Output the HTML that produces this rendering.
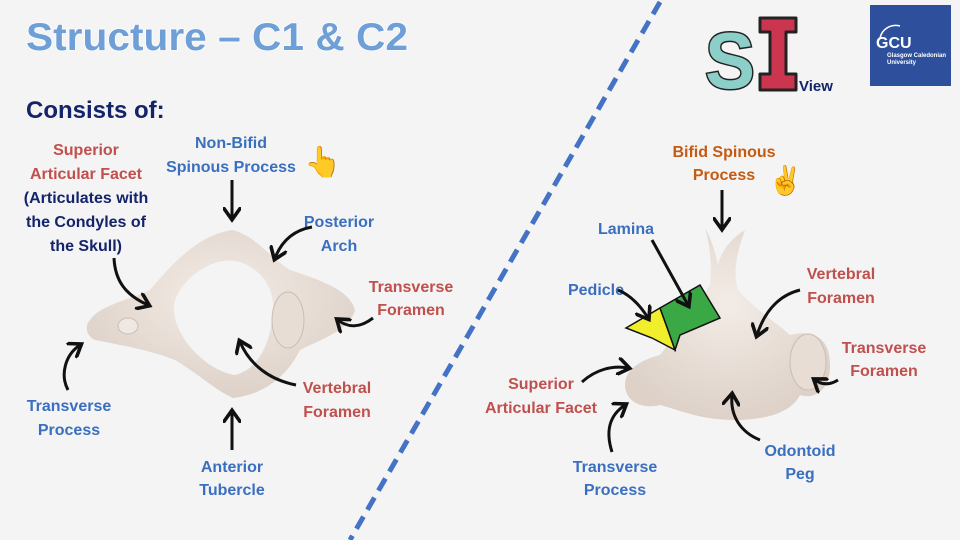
<!DOCTYPE html>
<html><head><meta charset="utf-8"><style>
html,body{margin:0;padding:0;background:#f4f4f4;}
svg{display:block;}
text{font-family:"Liberation Sans",sans-serif;font-weight:bold;}
</style></head><body>
<svg width="960" height="540" viewBox="0 0 960 540" xmlns="http://www.w3.org/2000/svg">
<defs>
<marker id="ah" viewBox="0 0 10 10" refX="6" refY="5" markerWidth="6" markerHeight="6" orient="auto"><path d="M0,0 L7,5 L0,10" fill="none" stroke="#111" stroke-width="2"/></marker>
<radialGradient id="bone" cx="50%" cy="40%" r="60%"><stop offset="0" stop-color="#f3ece6"/><stop offset="1" stop-color="#ddd1c8"/></radialGradient>
</defs>
<rect width="960" height="540" fill="#f4f4f4"/>
<!-- title -->
<text x="26" y="50" font-size="39" fill="#6e9fd6" stroke="#fff" stroke-width="1.5" paint-order="stroke" textLength="382" lengthAdjust="spacingAndGlyphs">Structure – C1 &amp; C2</text>
<text x="26" y="118" font-size="24" fill="#13246a">Consists of:</text>
<!-- dashed line -->
<line x1="660" y1="2" x2="350" y2="540" stroke="#4472c4" stroke-width="5" stroke-dasharray="14,8"/>
<!-- SI logo -->
<text x="705" y="88" font-size="80" fill="#8ccfc8" stroke="#222" stroke-width="3" paint-order="stroke" font-weight="bold" textLength="50" lengthAdjust="spacingAndGlyphs">S</text>
<path d="M760,18 H796 V32 H786 V74 H796 V90 H760 V74 H770 V32 H760 Z" fill="#cc3550" stroke="#222" stroke-width="3" stroke-linejoin="round"/>
<text x="799" y="91" font-size="15" fill="#13246a">View</text>
<rect x="870" y="5" width="81" height="81" fill="#2d4f9c"/>
<text x="876" y="48" font-size="16" fill="#fff" font-family="Liberation Serif" font-weight="normal">GCU</text>
<text x="887" y="57" font-size="6" fill="#fff" font-weight="normal">Glasgow Caledonian</text>
<text x="887" y="64" font-size="6" fill="#fff" font-weight="normal">University</text>
<path d="M880,38 A16,16 0 0 1 900,26" fill="none" stroke="#fff" stroke-width="1.5"/>
<!-- hands -->
<text x="304" y="172" font-size="30">👆</text>
<text x="768" y="190" font-size="28">✌</text>
<!-- C1 bone -->
<path fill-rule="evenodd" fill="url(#bone)" d="M90,320 C100,305 130,300 150,290 C175,260 200,235 232,230 C255,235 270,258 290,270 C320,280 350,290 355,310 C350,330 320,340 300,350 C285,380 260,395 233,398 C215,390 200,375 175,360 C150,350 120,345 95,340 C85,335 85,325 90,320 Z
M175,300 C185,275 215,255 240,262 C262,270 278,290 272,320 C268,350 255,370 235,375 C215,372 195,355 185,340 C175,325 172,310 175,300 Z"/>
<ellipse cx="128" cy="326" rx="10" ry="8" fill="#efe8e2" stroke="#cbbdb2"/>
<ellipse cx="288" cy="320" rx="16" ry="28" fill="#e7ddd5" stroke="#cbbdb2"/>
<!-- C2 bone -->
<path fill="url(#bone)" d="M705,228 C712,240 716,255 718,265 C720,255 728,240 745,230 C738,250 732,270 738,290 C755,310 780,325 790,335 C810,330 830,335 830,365 C830,390 815,400 800,395 C790,415 760,420 735,420 C700,420 680,410 660,405 C640,410 625,400 625,385 C625,370 640,360 660,355 C680,330 700,300 710,285 C712,265 710,245 705,228 Z"/>
<ellipse cx="808" cy="362" rx="18" ry="28" fill="#e7ddd5" stroke="#cbbdb2"/>
<path d="M626,328 L660,308 L668,330 L675,350 L652,338 Z" fill="#f1ef2c" stroke="#111" stroke-width="1.5"/>
<path d="M660,308 L700,285 L720,318 L680,335 L675,350 L668,330 Z" fill="#3aa845" stroke="#111" stroke-width="1.5"/>
<!-- labels -->
<g font-size="16" text-anchor="middle">
<text x="86" y="155" fill="#c0504d">Superior</text>
<text x="86" y="179" fill="#c0504d">Articular Facet</text>
<text x="86" y="203" fill="#13246a">(Articulates with</text>
<text x="86" y="227" fill="#13246a">the Condyles of</text>
<text x="86" y="251" fill="#13246a">the Skull)</text>
<text x="231" y="148" fill="#3a6fc0">Non-Bifid</text>
<text x="231" y="172" fill="#3a6fc0">Spinous Process</text>
<text x="339" y="227" fill="#3a6fc0">Posterior</text>
<text x="339" y="251" fill="#3a6fc0">Arch</text>
<text x="411" y="292" fill="#c0504d">Transverse</text>
<text x="411" y="315" fill="#c0504d">Foramen</text>
<text x="337" y="393" fill="#c0504d">Vertebral</text>
<text x="337" y="417" fill="#c0504d">Foramen</text>
<text x="69" y="411" fill="#3a6fc0">Transverse</text>
<text x="69" y="435" fill="#3a6fc0">Process</text>
<text x="232" y="472" fill="#3a6fc0">Anterior</text>
<text x="232" y="495" fill="#3a6fc0">Tubercle</text>
<text x="724" y="157" fill="#c55a11">Bifid Spinous</text>
<text x="724" y="180" fill="#c55a11">Process</text>
<text x="626" y="234" fill="#3a6fc0">Lamina</text>
<text x="596" y="295" fill="#3a6fc0">Pedicle</text>
<text x="841" y="279" fill="#c0504d">Vertebral</text>
<text x="841" y="303" fill="#c0504d">Foramen</text>
<text x="884" y="353" fill="#c0504d">Transverse</text>
<text x="884" y="376" fill="#c0504d">Foramen</text>
<text x="541" y="389" fill="#c0504d">Superior</text>
<text x="541" y="413" fill="#c0504d">Articular Facet</text>
<text x="615" y="472" fill="#3a6fc0">Transverse</text>
<text x="615" y="495" fill="#3a6fc0">Process</text>
<text x="800" y="456" fill="#3a6fc0">Odontoid</text>
<text x="800" y="479" fill="#3a6fc0">Peg</text>
</g>
<!-- arrows -->
<g fill="none" stroke="#111" stroke-width="3" marker-end="url(#ah)">
<path d="M232,180 L232,218"/>
<path d="M312,227 C295,230 282,240 275,258"/>
<path d="M114,258 C115,280 125,295 148,305"/>
<path d="M373,318 C360,328 348,328 338,320"/>
<path d="M296,385 C270,380 250,365 240,342"/>
<path d="M68,390 C60,375 65,355 80,345"/>
<path d="M232,450 L232,412"/>
<path d="M722,190 L722,228"/>
<path d="M652,240 L688,305"/>
<path d="M618,290 C630,295 640,305 648,318"/>
<path d="M800,290 C780,295 765,310 757,335"/>
<path d="M838,380 C830,385 822,385 815,380"/>
<path d="M582,382 C595,370 612,365 628,368"/>
<path d="M612,452 C605,430 610,415 625,405"/>
<path d="M760,440 C740,432 730,415 732,395"/>
</g>
</svg>
</body></html>
